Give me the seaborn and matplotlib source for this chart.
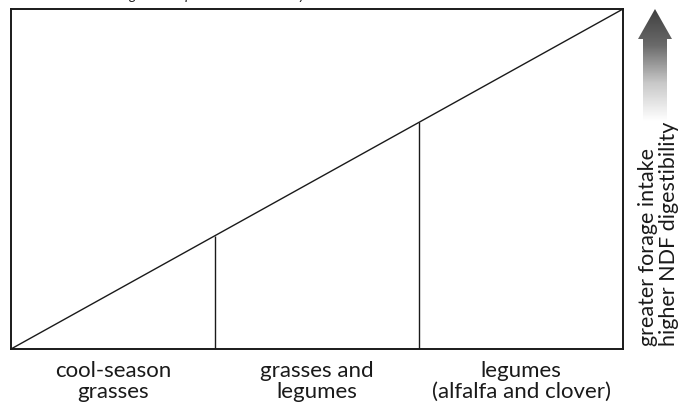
import matplotlib
matplotlib.use("Agg")
import matplotlib.pyplot as plt
import numpy as np
import seaborn as sns
from matplotlib.patches import Polygon
from matplotlib.colors import LinearSegmentedColormap

# forage groups along the x axis, quality trend as a straight line
GROUPS = ["cool-season\ngrasses", "grasses and\nlegumes", "legumes\n(alfalfa and clover)"]
TREND_X = [0.0, 1.0]
TREND_Y = [0.0, 1.0]
DIVIDERS = [1 / 3, 2 / 3]
ARROW_LINES = ["greater forage intake", "higher NDF digestibility"]
TOP_NOTE = "Forage intake potential at maturity"

sns.set_theme(style="white")
plt.rcParams["font.family"] = ["Lato", "DejaVu Sans"]

W, H = 681, 410
fig = plt.figure(figsize=(W / 100, H / 100), dpi=100)

# main box: x 11..623 px, y 10..350 px (from top)
ax = fig.add_axes([11 / W, (H - 350) / H, 612 / W, 340 / H])
sns.lineplot(x=TREND_X, y=TREND_Y, ax=ax, color="#1a1a1a", linewidth=1.0)
div_top = np.interp(DIVIDERS, TREND_X, TREND_Y)
ax.vlines(DIVIDERS, 0, div_top, color="#1a1a1a", linewidth=1.0)
ax.set_xlim(0, 1)
ax.set_ylim(0, 1)
centers = [(i + 0.5) / len(GROUPS) for i in range(len(GROUPS))]
ax.set_xticks(centers)
ax.set_xticklabels(GROUPS, fontsize=16, color="#1a1a1a", linespacing=1.05)
ax.tick_params(axis="x", length=0, pad=8)
ax.set_yticks([])
for s in ax.spines.values():
    s.set_visible(True)
    s.set_color("#1a1a1a")
    s.set_linewidth(1.4)

# gradient arrow on the right (x 635..675 px, y 8..128 px)
aax = fig.add_axes([635 / W, (H - 128) / H, 40 / W, 120 / H])
aax.set_xlim(0, 40)
aax.set_ylim(0, 120)
aax.axis("off")
arrow = Polygon([(8, 0), (32, 0), (32, 88), (37, 88), (20, 118),
                 (3, 88), (8, 88)], closed=True, facecolor="none",
                edgecolor="none", transform=aax.transData)
aax.add_patch(arrow)
fade = LinearSegmentedColormap.from_list("fade", ["#ffffff", "#c8c8c8", "#6a6a6a", "#3e3e3e"])
grad = np.linspace(0, 1, 256).reshape(-1, 1)
img = aax.imshow(grad, extent=[0, 40, 0, 120], origin="lower", aspect="auto",
                 cmap=fade, vmin=0.05, vmax=1.0)
img.set_clip_path(arrow)

fig.text(648 / W, 1 - 346 / H, ARROW_LINES[0], rotation=90, rotation_mode="anchor",
         ha="left", va="center", fontsize=15.5, color="#1a1a1a")
fig.text(669 / W, 1 - 346 / H, ARROW_LINES[1], rotation=90, rotation_mode="anchor",
         ha="left", va="center", fontsize=15.5, color="#1a1a1a")

# title line sits above the canvas, only descenders show
fig.text(103 / W, 1.0, TOP_NOTE, ha="left", va="baseline",
         fontsize=10, style="italic", color="#1a1a1a")

fig.savefig("out.png", dpi=100, facecolor="white")
